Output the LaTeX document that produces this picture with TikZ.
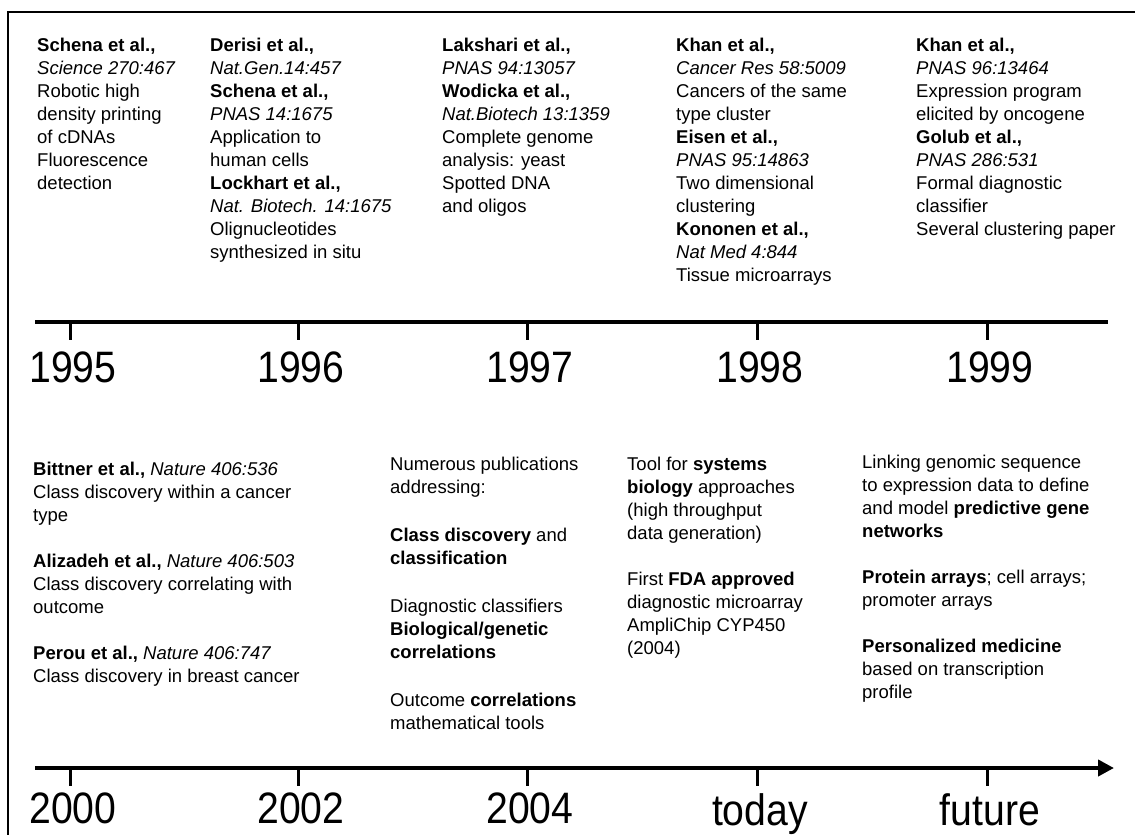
\documentclass[tikz,border=0pt]{standalone}
\usepackage{fontspec}
\setmainfont{Liberation Sans}
\usetikzlibrary{arrows.meta}
\newcommand{\narrowlbl}[1]{\scalebox{0.89}[1]{#1}}
\begin{document}
\begin{tikzpicture}[x=1pt,y=-1pt,
  txt/.style={anchor=north west, inner sep=0pt, align=left, font=\fontsize{18.5}{23}\selectfont},
  axis/.style={line width=4pt},
  tick/.style={line width=3pt},
  yearlbl/.style={anchor=north, inner sep=0pt, font=\fontsize{44}{44}\selectfont},
  frame/.style={line width=2pt}
]
\useasboundingbox (0,0) rectangle (1135,835);
% open frame: left and top edges only
\draw[frame] (8,835) -- (8,12) -- (1135,12);

% ---------- upper timeline: 1995-1999 ----------
\node[txt] (p95) at (37,38) {\textbf{Schena et al.,}\\ \textit{Science 270:467}\\ Robotic high\\ density printing\\ of cDNAs\\ Fluorescence\\ detection};
\node[txt] (p96) at (210,38) {\textbf{Derisi et al.,}\\ \textit{Nat.Gen.14:457}\\ \textbf{Schena et al.,}\\ \textit{PNAS 14:1675}\\ Application to\\ human cells\\ \textbf{Lockhart et al.,}\\ \textit{Nat. Biotech. 14:1675}\\ Olignucleotides\\ synthesized in situ};
\node[txt] (p97) at (442,38) {\textbf{Lakshari et al.,}\\ \textit{PNAS 94:13057}\\ \textbf{Wodicka et al.,}\\ \textit{Nat.Biotech 13:1359}\\ Complete genome\\ analysis: yeast\\ Spotted DNA\\ and oligos};
\node[txt] (p98) at (676,38) {\textbf{Khan et al.,}\\ \textit{Cancer Res 58:5009}\\ Cancers of the same\\ type cluster\\ \textbf{Eisen et al.,}\\ \textit{PNAS 95:14863}\\ Two dimensional\\ clustering\\ \textbf{Kononen et al.,}\\ \textit{Nat Med 4:844}\\ Tissue microarrays};
\node[txt] (p99) at (916,38) {\textbf{Khan et al.,}\\ \textit{PNAS 96:13464}\\ Expression program\\ elicited by oncogene\\ \textbf{Golub et al.,}\\ \textit{PNAS 286:531}\\ Formal diagnostic\\ classifier\\ Several clustering paper};

\coordinate (ua) at (35,322);
\coordinate (ub) at (1108,322);
\draw[axis] (ua) -- (ub);
\foreach \xx/\lab/\nm in {70/1995/u1, 298/1996/u2, 527/1997/u3, 757/1998/u4, 987/1999/u5} {
  \coordinate (\nm) at (\xx,322);
  \draw[tick] (\nm) -- ++(0,18);
  \node[yearlbl] (\nm l) at (\xx+3,352) {\narrowlbl{\lab}};
}

% ---------- lower timeline: 2000-future ----------
\node[txt] (p00) at (33,462) {\textbf{Bittner et al.,} \textit{Nature 406:536}\\ Class discovery within a cancer\\ type\\[23pt] \textbf{Alizadeh et al.,} \textit{Nature 406:503}\\ Class discovery correlating with\\ outcome\\[23pt] \textbf{Perou et al.,} \textit{Nature 406:747}\\ Class discovery in breast cancer};
\node[txt] (p04) at (390,457) {Numerous publications\\ addressing:\\[25pt] \textbf{Class discovery} and\\ \textbf{classification}\\[25pt] Diagnostic classifiers\\ \textbf{Biological/genetic}\\ \textbf{correlations}\\[25pt] Outcome \textbf{correlations}\\ mathematical tools};
\node[txt] (ptd) at (627,457) {Tool for \textbf{systems}\\ \textbf{biology} approaches\\ (high throughput\\ data generation)\\[23pt] First \textbf{FDA approved}\\ diagnostic microarray\\ AmpliChip CYP450\\ (2004)};
\node[txt] (pft) at (862,455) {Linking genomic sequence\\ to expression data to define\\ and model \textbf{predictive gene}\\ \textbf{networks}\\[23pt] \textbf{Protein arrays}; cell arrays;\\ promoter arrays\\[23pt] \textbf{Personalized medicine}\\ based on transcription\\ profile};

\coordinate (la) at (35,768);
\coordinate (lb) at (1114,768);
\draw[axis, -{Triangle[length=16pt,width=16pt]}] (la) -- (lb);
\foreach \xx/\lab/\nm in {70/2000/l1, 298/2002/l2, 527/2004/l3, 757/today/l4, 987/future/l5} {
  \coordinate (\nm) at (\xx,768);
  \draw[tick] (\nm) -- ++(0,18);
  \node[yearlbl] (\nm l) at (\xx+3,793) {\narrowlbl{\lab}};
}
\end{tikzpicture}
\end{document}
